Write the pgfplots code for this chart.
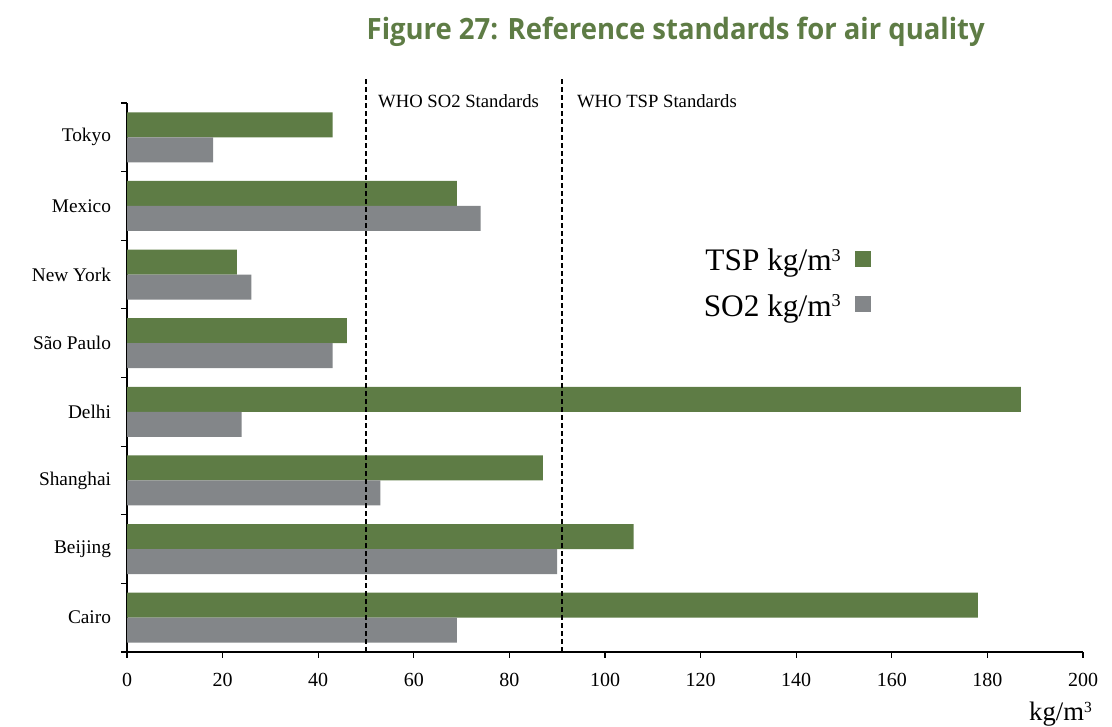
\documentclass[border=0pt]{standalone}
\usepackage{fontspec}
\setmainfont{Liberation Serif}
\newfontfamily\titlefont{Open Sans}
\usepackage{pgfplots}
\pgfplotsset{compat=1.18}
\definecolor{tspgreen}{RGB}{94,124,69}
\definecolor{sogray}{RGB}{131,134,137}
\newcommand\cubed{\raisebox{0.3em}{\scalebox{0.58}{3}}}
\begin{document}
\begin{tikzpicture}
\useasboundingbox (0,0) rectangle (834pt,545.25pt);
\node[anchor=base east, text=tspgreen, inner sep=0pt] at (738.75pt,515.25pt)
  {\resizebox{463.5pt}{\height}{\titlefont\bfseries\fontsize{22}{26}\selectfont Figure 27: Reference standards for air quality}};
\begin{axis}[
  at={(95.25pt,56.25pt)}, anchor=south west,
  scale only axis, width=717pt, height=411.75pt,
  xmin=0, xmax=200, ymin=-0.5, ymax=7.5,
  axis x line*=bottom, axis y line*=left,
  xtick={0,20,...,200},
  ytick={-0.5,0.5,...,7.5}, yticklabels={},
  extra y ticks={0,1,2,3,4,5,6,7},
  extra y tick labels={Cairo,Beijing,Shanghai,Delhi,São Paulo,New York,Mexico,Tokyo},
  extra y tick style={major tick length=0pt, yticklabel style={xshift=-8.5pt, font=\fontsize{14.5}{16}\selectfont}},
  tick align=outside, major tick length=4.5pt,
  tick style={black, line width=0.8pt},
  axis line style={black, line width=0.8pt},
  xticklabel style={font=\fontsize{15}{17}\selectfont, yshift=-8pt},
  /pgf/number format/assume math mode=true,
  xlabel={kg/m\cubed},
  xlabel style={at={(rel axis cs:1,0)}, anchor=base east, yshift=-51pt, xshift=6.75pt, font=\fontsize{20}{24}\selectfont, inner sep=0pt},
  clip=false,
  legend plot pos=right,
  legend cell align=right,
  legend style={draw=none, fill=none, at={(rel axis cs:0.779,0.7334)}, anchor=north east,
    font=\fontsize{23.5}{26}\selectfont, inner sep=0pt, row sep=13pt,
    nodes={inner sep=0pt, text height=16pt, text depth=5pt},
    /tikz/every odd column/.append style={column sep=11pt}},
]
\addplot[xbar, bar width=18.75pt, bar shift=9.375pt, fill=tspgreen, draw=none,
  legend image code/.code={\fill[tspgreen] (0pt,-2.2pt) rectangle (12pt,9.8pt);}]
  coordinates {(178,0) (106,1) (87,2) (187,3) (46,4) (23,5) (69,6) (43,7)};
\addlegendentry{TSP kg/m\cubed}
\addplot[xbar, bar width=18.75pt, bar shift=-9.375pt, fill=sogray, draw=none,
  legend image code/.code={\fill[sogray] (0pt,-2.2pt) rectangle (12pt,9.8pt);}]
  coordinates {(69,0) (90,1) (53,2) (24,3) (43,4) (26,5) (74,6) (18,7)};
\addlegendentry{SO2 kg/m\cubed}
\addplot[black, line width=2.2pt, dash pattern=on 3.5pt off 2.5pt, forget plot]
  coordinates {(50,-0.5) (50,7.88)};
\addplot[black, line width=2.2pt, dash pattern=on 3.5pt off 2.5pt, forget plot]
  coordinates {(91,-0.5) (91,7.88)};
\node[anchor=base west, inner sep=0pt, font=\fontsize{14}{16}\selectfont] at (axis cs:52.5,7.44) {WHO SO2 Standards};
\node[anchor=base west, inner sep=0pt, font=\fontsize{14}{16}\selectfont] at (axis cs:94.1,7.44) {WHO TSP Standards};
\end{axis}
\end{tikzpicture}
\end{document}
